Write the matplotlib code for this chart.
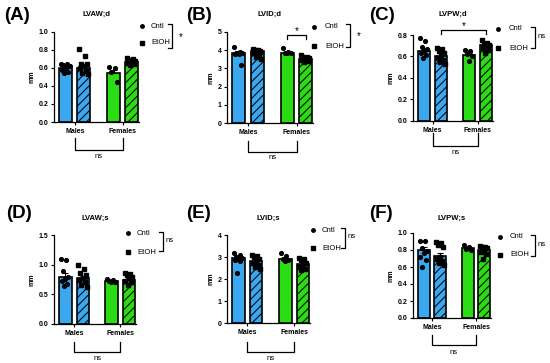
import numpy as np
import matplotlib
matplotlib.use('Agg')
import matplotlib.pyplot as plt
import matplotlib.transforms as mtransforms
from matplotlib.lines import Line2D

plt.rcParams['font.family'] = ['Liberation Sans', 'DejaVu Sans']
plt.rcParams['hatch.linewidth'] = 0.75

# ---------------- data ----------------
groups = ['Males', 'Females']
conditions = ['Cntl', 'EtOH']
panel_letters = ['(A)', '(B)', '(C)', '(D)', '(E)', '(F)']
titles = ['LVAW;d', 'LVID;d', 'LVPW;d', 'LVAW;s', 'LVID;s', 'LVPW;s']
legend_sig = ['*', '*', 'ns', 'ns', 'ns', 'ns']
sex_sig = ['ns', 'ns', 'ns', 'ns', 'ns', 'ns']

# bar order: Males Cntl, Males EtOH, Females Cntl, Females EtOH
lvawd_means = [0.595, 0.605, 0.545, 0.665]
lvawd_sem = [0.013, 0.030, 0.035, 0.010]
lvawd_points = [[0.65, 0.64, 0.63, 0.62, 0.60, 0.58, 0.56, 0.55, 0.62],
                [0.81, 0.73, 0.65, 0.64, 0.62, 0.60, 0.57, 0.55, 0.53],
                [0.61, 0.60, 0.56, 0.45],
                [0.71, 0.70, 0.69, 0.68, 0.67, 0.66, 0.64, 0.63]]

lvidd_means = [3.83, 3.93, 3.85, 3.50]
lvidd_sem = [0.10, 0.06, 0.04, 0.05]
lvidd_points = [[4.20, 3.88, 3.85, 3.83, 3.80, 3.78, 3.20],
                [4.05, 4.02, 4.00, 3.95, 3.90, 3.85, 3.75, 3.65, 3.50],
                [4.10, 3.88, 3.86, 3.84, 3.82],
                [3.72, 3.65, 3.60, 3.55, 3.50, 3.45, 3.40, 3.35]]

lvpwd_means = [0.655, 0.600, 0.615, 0.705]
lvpwd_sem = [0.022, 0.015, 0.018, 0.013]
lvpwd_points = [[0.77, 0.74, 0.69, 0.67, 0.65, 0.63, 0.61, 0.59],
                [0.68, 0.67, 0.65, 0.63, 0.61, 0.59, 0.57, 0.55, 0.53],
                [0.66, 0.65, 0.62, 0.60, 0.56],
                [0.75, 0.73, 0.72, 0.71, 0.70, 0.68, 0.66, 0.63]]

lvaws_means = [0.80, 0.77, 0.72, 0.75]
lvaws_sem = [0.06, 0.04, 0.01, 0.025]
lvaws_points = [[1.10, 1.08, 0.90, 0.80, 0.76, 0.72, 0.68, 0.64],
                [1.00, 0.93, 0.86, 0.82, 0.78, 0.74, 0.70, 0.66, 0.62],
                [0.76, 0.74, 0.73, 0.71, 0.70],
                [0.86, 0.84, 0.82, 0.80, 0.77, 0.73, 0.70, 0.66]]

lvids_means = [2.95, 2.82, 2.90, 2.68]
lvids_sem = [0.10, 0.07, 0.07, 0.08]
lvids_points = [[3.20, 3.10, 3.00, 2.95, 2.90, 2.85, 2.80, 2.27],
                [3.10, 3.05, 3.00, 2.90, 2.85, 2.75, 2.65, 2.55, 2.45],
                [3.17, 3.05, 2.90, 2.85, 2.80],
                [2.95, 2.90, 2.85, 2.75, 2.65, 2.55, 2.45, 2.40]]

lvpws_means = [0.80, 0.735, 0.825, 0.80]
lvpws_sem = [0.035, 0.03, 0.015, 0.018]
lvpws_points = [[0.91, 0.91, 0.82, 0.79, 0.76, 0.72, 0.68, 0.60],
                [0.90, 0.88, 0.86, 0.84, 0.72, 0.70, 0.67, 0.65, 0.62],
                [0.86, 0.83, 0.81, 0.80],
                [0.85, 0.84, 0.83, 0.82, 0.80, 0.78, 0.75, 0.70]]

all_means = [lvawd_means, lvidd_means, lvpwd_means, lvaws_means, lvids_means, lvpws_means]
all_sem = [lvawd_sem, lvidd_sem, lvpwd_sem, lvaws_sem, lvids_sem, lvpws_sem]
all_points = [lvawd_points, lvidd_points, lvpwd_points, lvaws_points, lvids_points, lvpws_points]

y_ticks = [[0.0, 0.2, 0.4, 0.6, 0.8, 1.0],
           [0, 1, 2, 3, 4, 5],
           [0.0, 0.2, 0.4, 0.6, 0.8],
           [0.0, 0.5, 1.0, 1.5],
           [0, 1, 2, 3, 4],
           [0.0, 0.2, 0.4, 0.6, 0.8, 1.0]]
y_fmt = ['%.1f', '%d', '%.1f', '%.1f', '%d', '%.1f']

# ---------------- layout (pixels) ----------------
W, H = 550, 363
fig = plt.figure(figsize=(W / 100, H / 100), dpi=100)

def fx(p):
    return p / W

def fy(p):
    return 1 - p / H

# (left spine x, right end x, top y, bottom y)
boxes = [(54, 139, 32, 122), (227, 313, 32, 123), (413, 493, 35, 121),
         (54, 136, 235, 324), (227, 310, 235, 323), (413, 491, 233, 318)]
label_pos = [(4, 15), (186, 15), (369, 15), (6, 213), (186, 213), (369, 213)]
title_y = [14, 14, 14, 218, 218, 218]
# legend: marker x, dot y, square y, text x, bracket x, bracket top y, bracket bottom y
legend_pos = [(142, 26, 43, 151, 172, 24, 48),
              (314, 27, 46, 325, 350, 24, 47),
              (498, 29, 48, 509, 535, 27, 48),
              (128, 233, 252, 137, 163, 232, 251),
              (313, 230, 248, 322, 345, 228, 248),
              (500, 237, 255, 510, 535, 235, 256)]
# bottom bracket: top y, bottom y, text y
bottom_br = [(138, 150, 156), (141, 152, 158), (133, 146, 153),
             (342, 352, 358), (342, 352, 358), (335, 345, 352)]

bar_x = np.array([0.0, 1.0, 2.65, 3.65])
group_x = [(bar_x[0] + bar_x[1]) / 2, (bar_x[2] + bar_x[3]) / 2]
bar_w = 0.72
blue = '#3AA7EE'
green = '#2BDC14'
colors = [blue, blue, green, green]
hatches = [None, '////', None, '////']
markers = ['o', 's', 'o', 's']
msizes = [2.7, 2.5, 2.7, 2.5]


def jitter(n):
    # deterministic horizontal spread of the scatter dots inside a bar
    k = np.arange(n)
    return (((k * 0.618034) % 1.0) - 0.5) * 0.5


for i in range(6):
    x0, x1, yt, yb = boxes[i]
    ax = fig.add_axes([fx(x0), fy(yb), fx(x1 - x0), (yb - yt) / H])
    means = all_means[i]
    sems = all_sem[i]
    pts = all_points[i]
    for j in range(4):
        ax.bar(bar_x[j], means[j], width=bar_w, color=colors[j], edgecolor='black',
               linewidth=1.2, hatch=hatches[j], zorder=2)
        ax.errorbar(bar_x[j], means[j], yerr=[[0], [sems[j]]], fmt='none',
                    ecolor='black', elinewidth=0.8, capsize=2.0, capthick=0.8, zorder=3)
        ax.plot(bar_x[j] + jitter(len(pts[j])), pts[j], linestyle='none',
                marker=markers[j], ms=msizes[j], color='black', zorder=4, clip_on=False)
    ax.set_xlim(-0.65, 4.05)
    yt_list = y_ticks[i]
    ax.set_ylim(yt_list[0], yt_list[-1])
    ax.set_yticks(yt_list)
    ax.set_yticklabels([y_fmt[i] % v for v in yt_list], fontsize=5, fontweight='bold')
    ax.set_xticks(group_x)
    ax.set_xticklabels(groups, fontsize=5, fontweight='bold')
    ax.tick_params(axis='both', length=2.5, width=0.8, pad=1.5)
    for s in ['top', 'right']:
        ax.spines[s].set_visible(False)
    for s in ['left', 'bottom']:
        ax.spines[s].set_linewidth(0.9)
    ax.set_ylabel('mm', fontsize=5, fontweight='bold', labelpad=2)

    # title
    fig.text(fx((x0 + x1) / 2), fy(title_y[i]), titles[i], fontsize=5.5,
             fontweight='bold', ha='center', va='center')

    # panel label
    lx, ly = label_pos[i]
    fig.text(fx(lx), fy(ly), panel_letters[i], fontsize=13.5, fontweight='bold',
             ha='left', va='center')

    # bottom bracket (sex comparison)
    trans = mtransforms.blended_transform_factory(ax.transData, fig.transFigure)
    bt, bb, bty = bottom_br[i]
    ax.add_line(Line2D([group_x[0], group_x[0], group_x[1], group_x[1]],
                       [fy(bt), fy(bb), fy(bb), fy(bt)], transform=trans,
                       color='black', lw=0.9, clip_on=False))
    ax.text((group_x[0] + group_x[1]) / 2, fy(bty), sex_sig[i], transform=trans,
            ha='center', va='center', fontsize=5.5)

    # legend with bracket
    mx, dy, sy, tx, bx, byt, byb = legend_pos[i]
    fig.add_artist(Line2D([fx(mx)], [fy(dy)], marker='o', ms=2.5, color='black',
                          linestyle='none', transform=fig.transFigure))
    fig.add_artist(Line2D([fx(mx)], [fy(sy)], marker='s', ms=2.3, color='black',
                          linestyle='none', transform=fig.transFigure))
    fig.text(fx(tx), fy(dy), conditions[0], fontsize=5.5, ha='left', va='center')
    fig.text(fx(tx), fy(sy), conditions[1], fontsize=5.5, ha='left', va='center')
    fig.add_artist(Line2D([fx(bx - 4), fx(bx), fx(bx), fx(bx - 4)],
                          [fy(byt), fy(byt), fy(byb), fy(byb)],
                          color='black', lw=0.9, transform=fig.transFigure))
    if legend_sig[i] == '*':
        fig.text(fx(bx + 7), fy((byt + byb) / 2 + 1), '*', fontsize=7,
                 ha='left', va='center')
    else:
        fig.text(fx(bx + 3), fy((byt + byb) / 2 - 1), 'ns', fontsize=5.5,
                 ha='left', va='center')

# within-sex comparison brackets (B: females, C: EtOH males vs females)
axB = fig.axes[1]
tB = mtransforms.blended_transform_factory(axB.transData, fig.transFigure)
axB.add_line(Line2D([bar_x[2], bar_x[2], bar_x[3], bar_x[3]],
                    [fy(39), fy(35), fy(35), fy(39)], transform=tB,
                    color='black', lw=0.9, clip_on=False))
axB.text((bar_x[2] + bar_x[3]) / 2, fy(31), '*', transform=tB, ha='center',
         va='center', fontsize=7)

axC = fig.axes[2]
tC = mtransforms.blended_transform_factory(axC.transData, fig.transFigure)
axC.add_line(Line2D([bar_x[1], bar_x[1], bar_x[3], bar_x[3]],
                    [fy(34), fy(30), fy(30), fy(34)], transform=tC,
                    color='black', lw=0.9, clip_on=False))
axC.text((bar_x[1] + bar_x[3]) / 2, fy(26), '*', transform=tC, ha='center',
         va='center', fontsize=7)

fig.savefig('out.png', dpi=100)
